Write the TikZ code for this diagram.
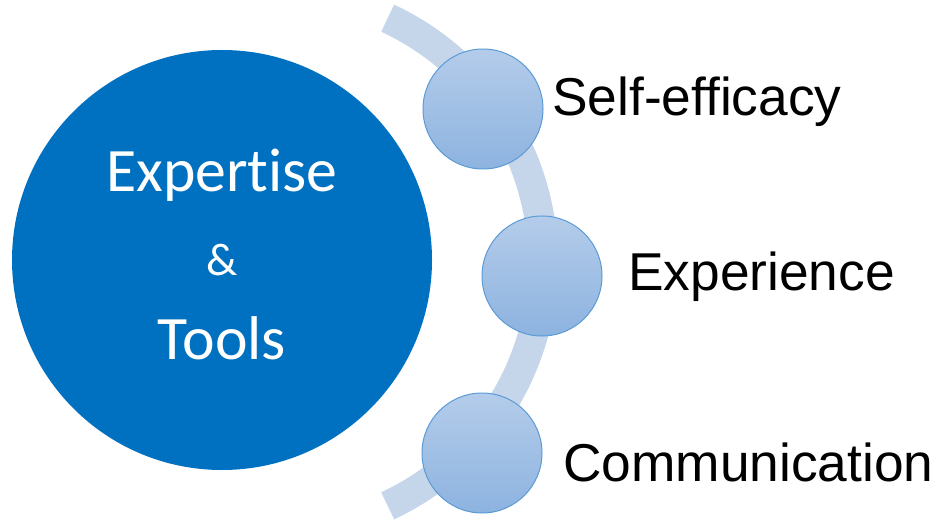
\documentclass[tikz,border=0pt]{standalone}
\usepackage{xcolor}
\usepackage{fontspec}
\setmainfont{Liberation Sans}
\newfontfamily\calibrifont[Ligatures={NoCommon}]{Carlito}
\usepackage{tikz}

\definecolor{bigblue}{RGB}{0,112,192}
\definecolor{bandblue}{RGB}{197,213,234}
\definecolor{balltop}{RGB}{180,204,234}
\definecolor{ballbot}{RGB}{141,179,224}
\definecolor{ballrim}{RGB}{91,155,213}

\begin{document}
\begin{tikzpicture}[x=1bp, y=-1bp]
	\useasboundingbox (0, 0) rectangle (936, 523);
	
	\node[circle, fill=bigblue, minimum size=420bp, inner sep=0pt] (Core) at (222, 260) {};
	\draw[bandblue, line width=30bp] (274, 262) ++(-65:269) arc[start angle=-65, end angle=65, radius=269];
	
	\begin{scope}[
		ball/.style={circle, draw=ballrim, line width=1bp, top color=balltop, bottom color=ballbot, minimum size=120bp, inner sep=0pt},
		label/.style={anchor=base west, font=\fontsize{53.5}{60}\selectfont, text=black, inner sep=0pt},
		coretext/.style={anchor=base, font=\calibrifont\fontsize{62}{70}\selectfont, text=white, inner sep=0pt}]
		\node[ball] (B1) at (483, 109) {};
		\node[ball] (B2) at (542, 276) {};
		\node[ball] (B3) at (482, 453) {};
		
		\node[label] (L1) at (552, 116) {Self-efficacy};
		\node[label] (L2) at (628, 291) {Experience};
		\node[label] (L3) at (563, 481) {Communication};
		
		\node[coretext] (T1) at (222, 192) {Expertise};
		\node[coretext, font=\calibrifont\fontsize{46}{52}\selectfont] (T2) at (222, 276) {\&};
		\node[coretext] (T3) at (222, 360) {Tools};
	\end{scope}
\end{tikzpicture}
\end{document}
